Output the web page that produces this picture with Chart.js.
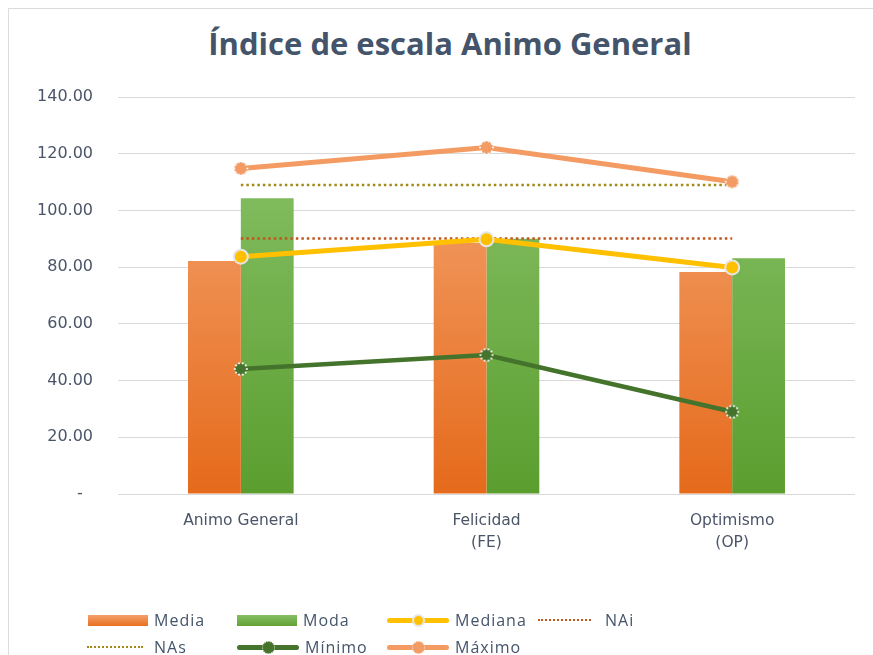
<!DOCTYPE html>
<html lang="es">
<head>
<meta charset="UTF-8">
<title>Índice de escala Animo General</title>
<script src="https://cdn.jsdelivr.net/npm/chart.js@4.4.7/dist/chart.umd.min.js"></script>
<style>
  * { margin: 0; padding: 0; box-sizing: border-box; }
  body { width: 873px; height: 655px; background: #fff; overflow: hidden; position: relative;
    font-family: 'Open Sans', 'Noto Sans', sans-serif; }
  .frame { position: absolute; left: 8px; top: 8px; width: 900px; height: 700px; border: 1px solid #dcdcdc; }
  h1 { position: absolute; left: 0; top: 28px; width: 900px; text-align: center; font-size: 31px; line-height: 1;
    font-weight: 700; color: #44546A; }
  #wrap { position: absolute; left: 0; top: 0; width: 873px; height: 655px; }
  .legend { position: absolute; left: 0; top: 0; width: 873px; height: 655px; pointer-events: none; }
  .item { position: absolute; display: flex; align-items: center; height: 20px; font-size: 16px; letter-spacing: 1px; color: #44546A; }
  .item span { margin-left: 6px; }
  .box { width: 60px; height: 11px; }
  .dots { width: 56px; height: 0; border-top: 2.5px dotted; }
  .ln { width: 62px; height: 5px; border-radius: 3px; position: relative; }
  .ln i { position: absolute; left: 50%; top: 50%; width: 13px; height: 13px; margin: -6.5px 0 0 -6.5px; border-radius: 50%; }
</style>
</head>
<body>
<div class="frame"></div>
<h1>Índice de escala Animo General</h1>
<div id="wrap"><canvas id="chart" width="873" height="655"></canvas></div>
<div class="legend">
  <div class="item" style="left:88px;top:610px"><div class="box" style="background:linear-gradient(#F4A16C,#E8701F)"></div><span>Media</span></div>
  <div class="item" style="left:237px;top:610px"><div class="box" style="background:linear-gradient(#86BE64,#63A236)"></div><span>Moda</span></div>
  <div class="item" style="left:387px;top:610px"><div class="ln" style="background:#FFC000"><i style="background:#FFC000;border:2px solid #e6e6e6"></i></div><span>Mediana</span></div>
  <div class="item" style="left:538px;top:610px"><div class="dots" style="width:53px;border-color:#C0561E"></div><span style="margin-left:14px">NAi</span></div>
  <div class="item" style="left:87px;top:637px"><div class="dots" style="border-color:#A38A16"></div><span style="margin-left:11px">NAs</span></div>
  <div class="item" style="left:237px;top:637px"><div class="ln" style="background:#44742C"><i style="background:#44742C;border:1.5px dotted #f2f2f2"></i></div><span>Mínimo</span></div>
  <div class="item" style="left:387px;top:637px"><div class="ln" style="background:#F39B63"><i style="background:#F39B63;border:1.5px dotted #f2f2f2"></i></div><span>Máximo</span></div>
</div>
<script>
const categories = ['Animo General', ['Felicidad', '(FE)'], ['Optimismo', '(OP)']];
const media   = [82.2, 88.5, 78.3];
const moda    = [104.3, 90.0, 83.1];
const mediana = [83.7, 89.8, 79.9];
const nai     = [90.1, 90.1, 90.1];
const nas     = [109.0, 109.0, 109.0];
const minimo  = [44.1, 49.0, 29.0];
const maximo  = [114.8, 122.2, 110.1];
const yTicks  = [0, 20, 40, 60, 80, 100, 120, 140];

// marcador tipo "estrella" de Excel: circulo con anillo de puntos blancos
function marker(color, r) {
  const c = document.createElement('canvas');
  const s = Math.ceil(r * 2 + 6);
  c.width = s; c.height = s;
  const g = c.getContext('2d');
  g.fillStyle = color;
  g.beginPath(); g.arc(s / 2, s / 2, r, 0, Math.PI * 2); g.fill();
  g.fillStyle = '#f4f4f4';
  for (let k = 0; k < 10; k++) {
    const a = k * Math.PI / 5;
    g.beginPath(); g.arc(s / 2 + Math.cos(a) * r, s / 2 + Math.sin(a) * r, 1.1, 0, Math.PI * 2); g.fill();
  }
  return c;
}

function grad(top, bottom) {
  return function(ctx) {
    const area = ctx.chart.chartArea;
    if (!area) return bottom;
    const g = ctx.chart.ctx.createLinearGradient(0, area.top, 0, area.bottom);
    g.addColorStop(0, top);
    g.addColorStop(1, bottom);
    return g;
  };
}

const tickColor = '#4B5568';
const tickFont = { family: "'DejaVu Sans'", size: 15.5 };

new Chart(document.getElementById('chart'), {
  data: {
    labels: categories,
    datasets: [
      { type: 'line', label: 'Máximo', data: maximo, borderColor: '#F39B63', borderWidth: 5,
        pointStyle: marker('#F39B63', 6.5), order: 1 },
      { type: 'line', label: 'Mínimo', data: minimo, borderColor: '#44742C', borderWidth: 4.5,
        pointStyle: marker('#44742C', 6), order: 2 },
      { type: 'line', label: 'Mediana', data: mediana, borderColor: '#FFC000', borderWidth: 5,
        pointRadius: 7, pointBackgroundColor: '#FFC000', pointBorderColor: '#e6e6e6', pointBorderWidth: 2, order: 3 },
      { type: 'line', label: 'NAs', data: nas, borderColor: '#A38A16', borderWidth: 2.5, borderDash: [2.5, 3],
        pointRadius: 0, order: 4 },
      { type: 'line', label: 'NAi', data: nai, borderColor: '#C0561E', borderWidth: 2.5, borderDash: [2.5, 3],
        pointRadius: 0, order: 5 },
      { type: 'bar', label: 'Media', data: media, backgroundColor: grad('#F6AA78', '#E56A1B'),
        borderWidth: 0, order: 10 },
      { type: 'bar', label: 'Moda', data: moda, backgroundColor: grad('#8CC46C', '#5B9E2F'),
        borderWidth: 0, order: 11 }
    ]
  },
  options: {
    responsive: false,
    animation: false,
    layout: { padding: { left: 0, right: 18, top: 97, bottom: 0 } },
    datasets: { bar: { categoryPercentage: 0.43, barPercentage: 1 } },
    plugins: {
      legend: { display: false },
      tooltip: { enabled: false }
    },
    scales: {
      x: {
        grid: { display: false },
        border: { display: false },
        ticks: { color: tickColor, padding: 8, font: { ...tickFont, lineHeight: 1.4 },
          maxRotation: 0, autoSkip: false },
        afterFit: s => { s.height = 161; }
      },
      y: {
        min: 0, max: 140,
        afterBuildTicks: s => { s.ticks = yTicks.map(v => ({ value: v })); },
        grid: { color: '#d9d9d9', drawTicks: false },
        border: { display: false },
        ticks: { color: tickColor, padding: 25, font: { family: "'DejaVu Sans'", size: 16 },
          callback: v => v === 0 ? '-  ' : v.toFixed(2) },
        afterFit: s => { s.width = 118; }
      }
    }
  }
});
</script>
</body>
</html>
